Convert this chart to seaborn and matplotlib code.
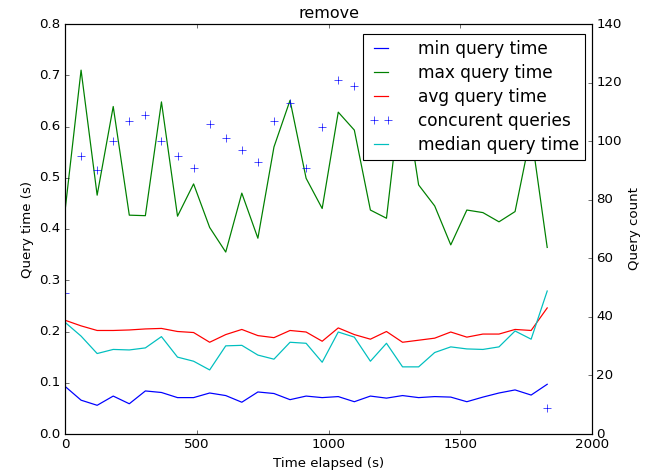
import pandas as pd
import seaborn as sns
import matplotlib
matplotlib.use("Agg")
import matplotlib.pyplot as plt

# tiempos de muestreo (s)
elapsed = [0, 61, 122, 183, 244, 305, 366, 427, 488, 549, 610, 671, 732, 793,
           854, 915, 976, 1037, 1098, 1159, 1220, 1281, 1342, 1403, 1464,
           1525, 1586, 1647, 1708, 1769, 1830]

min_time = [0.093, 0.066, 0.056, 0.074, 0.059, 0.084, 0.081, 0.071, 0.071,
            0.080, 0.075, 0.062, 0.082, 0.079, 0.067, 0.074, 0.071, 0.073,
            0.063, 0.074, 0.070, 0.075, 0.071, 0.073, 0.072, 0.063, 0.072,
            0.080, 0.086, 0.076, 0.097]
max_time = [0.435, 0.710, 0.466, 0.639, 0.427, 0.426, 0.648, 0.425, 0.488,
            0.403, 0.355, 0.470, 0.382, 0.560, 0.651, 0.499, 0.440, 0.628,
            0.593, 0.437, 0.421, 0.690, 0.486, 0.445, 0.369, 0.437, 0.432,
            0.414, 0.434, 0.588, 0.364]
avg_time = [0.222, 0.211, 0.202, 0.202, 0.203, 0.205, 0.206, 0.200, 0.198,
            0.179, 0.194, 0.204, 0.192, 0.188, 0.202, 0.199, 0.181, 0.207,
            0.194, 0.185, 0.200, 0.179, 0.183, 0.187, 0.199, 0.189, 0.195,
            0.195, 0.204, 0.202, 0.246]
median_time = [0.218, 0.191, 0.157, 0.165, 0.164, 0.168, 0.190, 0.150, 0.142,
               0.125, 0.172, 0.173, 0.154, 0.146, 0.179, 0.177, 0.140, 0.199,
               0.189, 0.142, 0.177, 0.131, 0.131, 0.159, 0.170, 0.166, 0.165,
               0.170, 0.201, 0.185, 0.279]
# consultas concurrentes (eje derecho); las de 1159-1769 quedan tapadas por la leyenda
concurrent = [48, 95, 90, 100, 107, 109, 100, 95, 91, 106, 101, 97, 93, 107,
              113, 91, 105, 121, 119, 125, 118, 112, 108, 120, 115, 104, 110,
              122, 117, 100, 9]

df = pd.DataFrame({"t": elapsed, "min": min_time, "max": max_time,
                   "avg": avg_time, "median": median_time,
                   "concurrent": concurrent})

plt.style.use("classic")
fig = plt.figure(figsize=(645 / 80, 475 / 80), dpi=80, facecolor="white")
ax = fig.add_axes([65 / 645, 41 / 475, 527 / 645, 410 / 475])
ax2 = ax.twinx()

sns.lineplot(data=df, x="t", y="min", ax=ax, color="b", linewidth=1.1,
             label="min query time", legend=False)
sns.lineplot(data=df, x="t", y="max", ax=ax, color="g", linewidth=1.1,
             label="max query time", legend=False)
sns.lineplot(data=df, x="t", y="avg", ax=ax, color="r", linewidth=1.1,
             label="avg query time", legend=False)
sns.lineplot(data=df, x="t", y="median", ax=ax, color="c", linewidth=1.1,
             label="median query time", legend=False)
sns.lineplot(data=df, x="t", y="concurrent", ax=ax2, color="b", linestyle="",
             marker="+", markersize=7, markeredgecolor="b",
             markeredgewidth=0.6, label="concurent queries", legend=False)

ax.set_xlim(0, 2000)
ax.set_ylim(0, 0.8)
ax2.set_ylim(0, 140)
ax.set_xticks(range(0, 2001, 500))
ax.set_yticks([i / 10 for i in range(9)])
ax2.set_yticks(range(0, 141, 20))

ax.set_xlabel("Time elapsed (s)")
ax.set_ylabel("Query time (s)")
ax2.set_ylabel("Query count")
ax.set_title("remove")

h1, l1 = ax.get_legend_handles_labels()
h2, l2 = ax2.get_legend_handles_labels()
handles = [h1[0], h1[1], h1[2], h2[0], h1[3]]
labels = [l1[0], l1[1], l1[2], l2[0], l1[3]]
ax2.legend(handles, labels, loc="upper right", numpoints=2, fontsize=15.3,
           handlelength=1.46, handletextpad=1.45, labelspacing=0.35,
           borderpad=0.35, borderaxespad=0,
           bbox_to_anchor=(0.987, 0.976))

fig.savefig("out.png", dpi=80, facecolor="white")
